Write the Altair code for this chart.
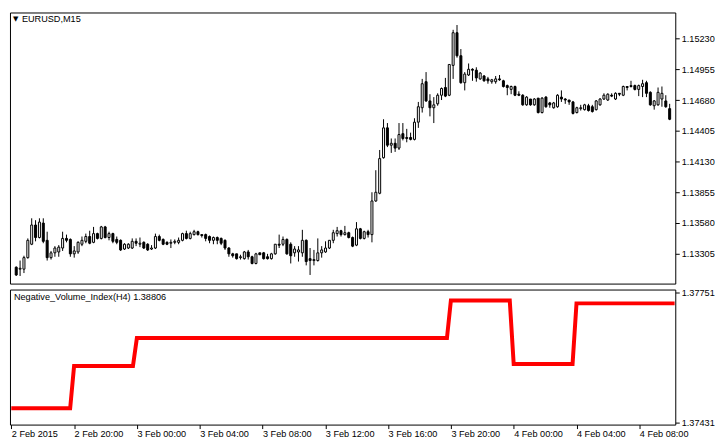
import altair as alt
import pandas as pd

# EURUSD M15 candles, 2 Feb 2015 16:00 -> 4 Feb 2015 10:15
open_ = [1.13184, 1.13167, 1.13167, 1.13270, 1.13390, 1.13562, 1.13450, 1.13579, 1.13425, 1.13270,
         1.13313, 1.13321, 1.13356, 1.13442, 1.13433, 1.13304, 1.13321, 1.13390, 1.13416, 1.13459,
         1.13407, 1.13485, 1.13442, 1.13545, 1.13450, 1.13485, 1.13433, 1.13425, 1.13347, 1.13356,
         1.13356, 1.13416, 1.13390, 1.13407, 1.13390, 1.13347, 1.13356, 1.13459, 1.13433, 1.13407,
         1.13399, 1.13407, 1.13407, 1.13425, 1.13485, 1.13442, 1.13476, 1.13502, 1.13476, 1.13476,
         1.13459, 1.13425, 1.13450, 1.13442, 1.13425, 1.13356, 1.13304, 1.13304, 1.13270, 1.13261,
         1.13321, 1.13278, 1.13218, 1.13313, 1.13313, 1.13278, 1.13261, 1.13304, 1.13390, 1.13390,
         1.13433, 1.13390, 1.13313, 1.13321, 1.13313, 1.13425, 1.13261, 1.13244, 1.13244, 1.13313,
         1.13321, 1.13356, 1.13425, 1.13485, 1.13511, 1.13476, 1.13493, 1.13450, 1.13382, 1.13528,
         1.13442, 1.13502, 1.13476, 1.13777, 1.13846, 1.14164, 1.14431, 1.14276, 1.14293, 1.14250,
         1.14379, 1.14345, 1.14345, 1.14328, 1.14482, 1.14611, 1.14844, 1.14672, 1.14611, 1.14646,
         1.14723, 1.14792, 1.14723, 1.14990, 1.15282, 1.15076, 1.14835, 1.14904, 1.14955, 1.14947,
         1.14869, 1.14895, 1.14869, 1.14844, 1.14844, 1.14869, 1.14852, 1.14809, 1.14775, 1.14801,
         1.14732, 1.14723, 1.14637, 1.14689, 1.14637, 1.14697, 1.14568, 1.14706, 1.14654, 1.14611,
         1.14620, 1.14706, 1.14689, 1.14680, 1.14663, 1.14568, 1.14603, 1.14594, 1.14629, 1.14620,
         1.14594, 1.14637, 1.14689, 1.14680, 1.14723, 1.14689, 1.14740, 1.14723, 1.14801, 1.14801,
         1.14809, 1.14775, 1.14801, 1.14835, 1.14749, 1.14629, 1.14637, 1.14689, 1.14672, 1.14603]
high = [1.13192, 1.13244, 1.13287, 1.13442, 1.13622, 1.13605, 1.13622, 1.13622, 1.13502, 1.13330,
        1.13373, 1.13382, 1.13502, 1.13476, 1.13442, 1.13373, 1.13416, 1.13459, 1.13485, 1.13511,
        1.13545, 1.13493, 1.13554, 1.13554, 1.13502, 1.13493, 1.13459, 1.13433, 1.13399, 1.13399,
        1.13442, 1.13442, 1.13450, 1.13416, 1.13399, 1.13382, 1.13485, 1.13476, 1.13442, 1.13416,
        1.13433, 1.13433, 1.13450, 1.13493, 1.13511, 1.13502, 1.13519, 1.13511, 1.13476, 1.13485,
        1.13468, 1.13459, 1.13459, 1.13450, 1.13433, 1.13364, 1.13313, 1.13304, 1.13296, 1.13330,
        1.13339, 1.13287, 1.13313, 1.13313, 1.13321, 1.13304, 1.13313, 1.13390, 1.13476, 1.13459,
        1.13442, 1.13407, 1.13373, 1.13373, 1.13519, 1.13433, 1.13356, 1.13339, 1.13442, 1.13373,
        1.13416, 1.13425, 1.13519, 1.13545, 1.13519, 1.13554, 1.13502, 1.13459, 1.13588, 1.13536,
        1.13511, 1.13519, 1.13855, 1.14052, 1.14233, 1.14508, 1.14474, 1.14336, 1.14336, 1.14474,
        1.14474, 1.14422, 1.14388, 1.14517, 1.14663, 1.14869, 1.14930, 1.14732, 1.14706, 1.14740,
        1.14792, 1.14878, 1.14998, 1.15308, 1.15351, 1.15136, 1.14930, 1.15007, 1.14964, 1.14973,
        1.14930, 1.14904, 1.14887, 1.14869, 1.14895, 1.14904, 1.14861, 1.14818, 1.14809, 1.14809,
        1.14758, 1.14732, 1.14715, 1.14689, 1.14697, 1.14697, 1.14706, 1.14715, 1.14663, 1.14663,
        1.14732, 1.14766, 1.14697, 1.14680, 1.14672, 1.14620, 1.14637, 1.14646, 1.14646, 1.14637,
        1.14680, 1.14697, 1.14740, 1.14740, 1.14740, 1.14749, 1.14740, 1.14809, 1.14801, 1.14852,
        1.14818, 1.14818, 1.14861, 1.14852, 1.14758, 1.14680, 1.14792, 1.14801, 1.14723, 1.14646]
low = [1.13106, 1.13106, 1.13132, 1.13261, 1.13382, 1.13416, 1.13442, 1.13399, 1.13244, 1.13253,
       1.13278, 1.13278, 1.13330, 1.13407, 1.13278, 1.13270, 1.13304, 1.13373, 1.13399, 1.13390,
       1.13399, 1.13433, 1.13433, 1.13442, 1.13425, 1.13399, 1.13390, 1.13330, 1.13339, 1.13347,
       1.13347, 1.13373, 1.13364, 1.13347, 1.13330, 1.13339, 1.13347, 1.13416, 1.13382, 1.13382,
       1.13356, 1.13390, 1.13390, 1.13416, 1.13433, 1.13433, 1.13468, 1.13468, 1.13450, 1.13416,
       1.13399, 1.13390, 1.13390, 1.13382, 1.13339, 1.13278, 1.13270, 1.13253, 1.13253, 1.13253,
       1.13253, 1.13210, 1.13210, 1.13296, 1.13253, 1.13253, 1.13253, 1.13296, 1.13356, 1.13373,
       1.13296, 1.13218, 1.13278, 1.13235, 1.13278, 1.13201, 1.13115, 1.13201, 1.13235, 1.13270,
       1.13313, 1.13347, 1.13399, 1.13459, 1.13459, 1.13468, 1.13442, 1.13364, 1.13373, 1.13433,
       1.13433, 1.13450, 1.13407, 1.13769, 1.13837, 1.14156, 1.14259, 1.14207, 1.14216, 1.14233,
       1.14319, 1.14302, 1.14319, 1.14319, 1.14431, 1.14568, 1.14663, 1.14534, 1.14474, 1.14629,
       1.14680, 1.14706, 1.14715, 1.14869, 1.15059, 1.14826, 1.14766, 1.14895, 1.14852, 1.14844,
       1.14861, 1.14844, 1.14826, 1.14826, 1.14826, 1.14852, 1.14792, 1.14723, 1.14732, 1.14715,
       1.14715, 1.14629, 1.14629, 1.14629, 1.14629, 1.14560, 1.14560, 1.14611, 1.14611, 1.14603,
       1.14611, 1.14663, 1.14646, 1.14637, 1.14551, 1.14560, 1.14586, 1.14586, 1.14577, 1.14568,
       1.14586, 1.14629, 1.14680, 1.14672, 1.14706, 1.14680, 1.14715, 1.14715, 1.14766, 1.14792,
       1.14766, 1.14715, 1.14706, 1.14706, 1.14629, 1.14594, 1.14629, 1.14620, 1.14611, 1.14500]
close = [1.13115, 1.13175, 1.13270, 1.13425, 1.13562, 1.13450, 1.13588, 1.13416, 1.13270, 1.13313,
         1.13356, 1.13364, 1.13442, 1.13425, 1.13304, 1.13330, 1.13407, 1.13425, 1.13459, 1.13399,
         1.13485, 1.13442, 1.13545, 1.13450, 1.13485, 1.13416, 1.13407, 1.13339, 1.13390, 1.13390,
         1.13416, 1.13399, 1.13399, 1.13356, 1.13339, 1.13356, 1.13459, 1.13425, 1.13390, 1.13390,
         1.13407, 1.13416, 1.13425, 1.13485, 1.13442, 1.13485, 1.13502, 1.13476, 1.13468, 1.13442,
         1.13425, 1.13450, 1.13425, 1.13399, 1.13356, 1.13304, 1.13287, 1.13261, 1.13278, 1.13321,
         1.13278, 1.13218, 1.13304, 1.13296, 1.13261, 1.13261, 1.13304, 1.13390, 1.13382, 1.13433,
         1.13304, 1.13287, 1.13347, 1.13339, 1.13425, 1.13235, 1.13244, 1.13253, 1.13313, 1.13339,
         1.13356, 1.13425, 1.13493, 1.13511, 1.13476, 1.13493, 1.13450, 1.13373, 1.13528, 1.13442,
         1.13502, 1.13476, 1.13777, 1.13855, 1.14156, 1.14431, 1.14276, 1.14293, 1.14250, 1.14371,
         1.14336, 1.14336, 1.14328, 1.14482, 1.14620, 1.14826, 1.14672, 1.14611, 1.14637, 1.14723,
         1.14783, 1.14715, 1.14998, 1.15282, 1.15076, 1.14835, 1.14912, 1.14955, 1.14947, 1.14878,
         1.14921, 1.14852, 1.14852, 1.14861, 1.14869, 1.14861, 1.14801, 1.14792, 1.14801, 1.14723,
         1.14723, 1.14637, 1.14706, 1.14637, 1.14689, 1.14568, 1.14697, 1.14620, 1.14637, 1.14654,
         1.14723, 1.14689, 1.14680, 1.14663, 1.14560, 1.14611, 1.14611, 1.14637, 1.14586, 1.14577,
         1.14672, 1.14689, 1.14723, 1.14732, 1.14715, 1.14740, 1.14732, 1.14801, 1.14792, 1.14809,
         1.14775, 1.14809, 1.14826, 1.14740, 1.14637, 1.14672, 1.14749, 1.14740, 1.14620, 1.14508]

# Negative Volume Index (H4), one value per H4 bar (2 Feb 16:00 ... 4 Feb 08:00)
nvi_h4 = [1.37466, 1.37570, 1.37639, 1.37639, 1.37639, 1.37639, 1.37639,
          1.37731, 1.37575, 1.37724, 1.37724]

time_labels = ["2 Feb 2015", "2 Feb 20:00", "3 Feb 00:00", "3 Feb 04:00", "3 Feb 08:00",
               "3 Feb 12:00", "3 Feb 16:00", "3 Feb 20:00", "4 Feb 00:00", "4 Feb 04:00",
               "4 Feb 08:00"]
label_bars = [0, 16, 32, 48, 64, 80, 96, 112, 128, 144, 160]
price_ticks = [1.13305, 1.13580, 1.13855, 1.14130, 1.14405, 1.14680, 1.14955, 1.15230]
nvi_ticks = [1.37431, 1.37751]

n = len(open_)
df = pd.DataFrame({
    "i": list(range(n)),
    "open": open_, "high": high, "low": low, "close": close,
    "nvi": [nvi_h4[k // 16] for k in range(n)],
})

FONT = "Liberation Sans"
FS = 9.2

xscale = alt.Scale(domain=[-0.33, 169.17], nice=False, zero=False)
yscale = alt.Scale(domain=[1.13038, 1.15463], nice=False, zero=False)
nscale = alt.Scale(domain=[1.37426, 1.37758], nice=False, zero=False)

price_axis = alt.Axis(orient="right", values=price_ticks, format=".5f", title=None,
                      tickSize=4, labelPadding=2, labelOverlap=False)

base = alt.Chart(df)

wicks = base.mark_rule(color="black", strokeWidth=1, clip=True).encode(
    x=alt.X("i:Q", scale=xscale, axis=None),
    y=alt.Y("low:Q", scale=yscale, axis=price_axis),
    y2="high:Q",
)
bodies = base.mark_bar(size=2, stroke="black", strokeWidth=1, clip=True).encode(
    x=alt.X("i:Q", scale=xscale, axis=None),
    y=alt.Y("open:Q", scale=yscale, axis=price_axis),
    y2="close:Q",
    fill=alt.condition("datum.close >= datum.open", alt.value("white"), alt.value("black")),
)
tri = alt.Chart(pd.DataFrame({"t": ["▼"]})).mark_text(
    align="left", baseline="middle", font="DejaVu Sans", fontSize=7, color="black"
).encode(x=alt.value(3), y=alt.value(7), text="t:N")
sym = alt.Chart(pd.DataFrame({"t": ["EURUSD,M15"]})).mark_text(
    align="left", baseline="middle", font=FONT, fontSize=FS, color="black"
).encode(x=alt.value(12), y=alt.value(7), text="t:N")

main = alt.layer(wicks, bodies, tri, sym).properties(width=670, height=273)

label_expr = "[" + ",".join("'" + s + "'" for s in time_labels) + "][datum.value / 16]"

nvi_line = base.mark_line(color="#FF0000", strokeWidth=4, clip=True).encode(
    x=alt.X("i:Q", scale=xscale,
            axis=alt.Axis(values=label_bars, labelExpr=label_expr, title=None, tickSize=4,
                          labelAlign="left", labelBaseline="top", labelPadding=1,
                          labelOverlap=False, labelFlush=False)),
    y=alt.Y("nvi:Q", scale=nscale,
            axis=alt.Axis(orient="right", values=nvi_ticks, format=".5f", title=None,
                          tickSize=4, labelPadding=2, labelOverlap=False)),
)
nvi_lbl = alt.Chart(pd.DataFrame({"t": ["Negative_Volume_Index(H4) 1.38806"]})).mark_text(
    align="left", baseline="middle", font=FONT, fontSize=FS, color="black"
).encode(x=alt.value(4), y=alt.value(8), text="t:N")

lower = alt.layer(nvi_line, nvi_lbl).properties(width=670, height=136)

chart = alt.vconcat(main, lower, spacing=3).resolve_scale(y="independent").properties(
    padding={"left": 1, "top": 2, "right": 0, "bottom": 0}, background="white"
).configure_view(stroke="black", strokeWidth=1).configure_axis(
    grid=False, domain=False, labelFont=FONT, labelFontSize=FS, labelColor="black",
    tickColor="black", tickWidth=1, labelOverlap=False
)

chart.save("out.html", embed_options={"renderer": "svg", "actions": False})
